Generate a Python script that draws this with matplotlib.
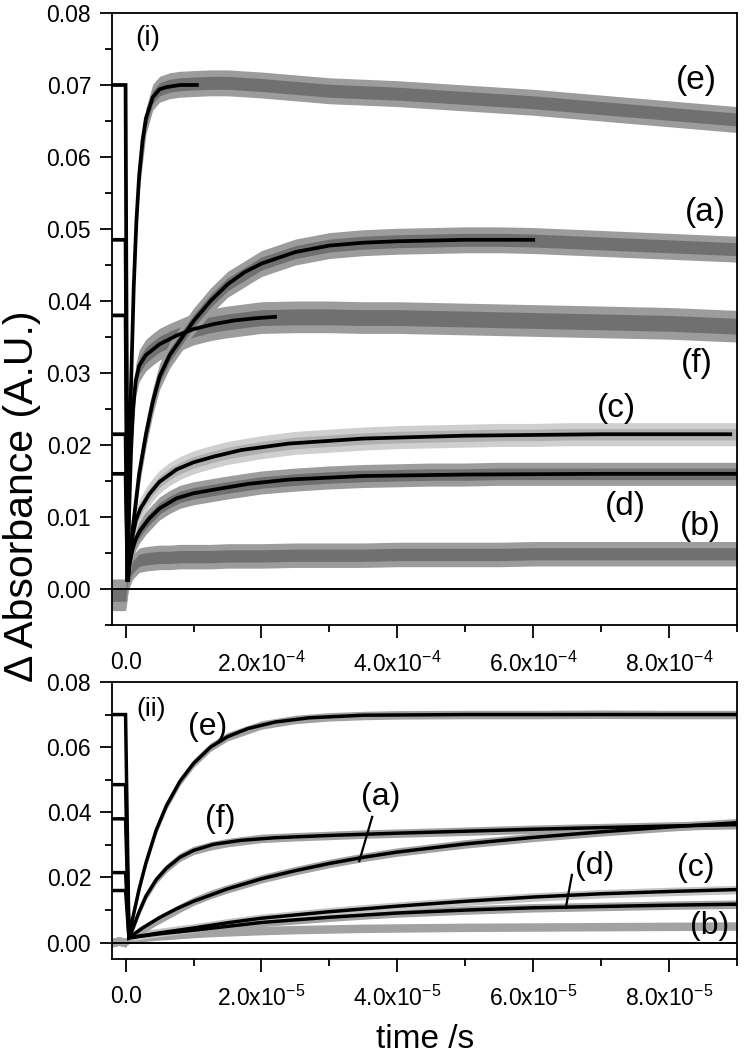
import matplotlib.pyplot as plt
from matplotlib.ticker import MultipleLocator, FuncFormatter

plt.rcParams['font.family'] = ['Liberation Sans', 'DejaVu Sans']
plt.rcParams['mathtext.fontset'] = 'custom'
plt.rcParams['mathtext.rm'] = 'Liberation Sans'
plt.rcParams['mathtext.it'] = 'Liberation Sans:italic'

# ---------------- panel (i): time in units of 1e-4 s ----------------
t1_scale = 1e-4
t1 = [-0.2, -0.1, 0.0, 0.03, 0.06, 0.1, 0.15, 0.2, 0.3, 0.4, 0.5, 0.65, 0.8, 1.0,
      1.25, 1.5, 2.0, 2.5, 3.0, 3.5, 4.0, 4.5, 5.0, 5.5, 6.0, 6.5, 7.0, 7.5, 8.0, 8.5, 9.0]
trace1_e = [-0.0008, -0.0008, -0.0008, 0.002, 0.020, 0.036, 0.049, 0.057, 0.065, 0.0683, 0.0694, 0.0699,
            0.0701, 0.0702, 0.0703, 0.0703, 0.0700, 0.0696, 0.0692, 0.0690, 0.0688, 0.0685, 0.0682, 0.0679,
            0.0676, 0.0672, 0.0668, 0.0664, 0.0660, 0.0656, 0.0652]
trace1_a = [-0.0008, -0.0008, -0.0008, 0.001, 0.004, 0.008, 0.012, 0.016, 0.0215, 0.026, 0.0295, 0.0325,
            0.0345, 0.0372, 0.0400, 0.0423, 0.0452, 0.0468, 0.0477, 0.0481, 0.0483, 0.0484, 0.0485, 0.0485,
            0.0484, 0.0482, 0.0480, 0.0478, 0.0476, 0.0474, 0.0472]
trace1_f = [-0.0008, -0.0008, -0.0008, 0.001, 0.013, 0.023, 0.029, 0.031, 0.0325, 0.0333, 0.0340, 0.0347,
            0.0353, 0.0361, 0.0367, 0.0371, 0.0377, 0.0378, 0.0378, 0.0377, 0.0377, 0.0376, 0.0375, 0.0374,
            0.0373, 0.0372, 0.0371, 0.0370, 0.0369, 0.0367, 0.0365]
trace1_c = [-0.0008, -0.0008, -0.0008, 0.001, 0.004, 0.0072, 0.0095, 0.0108, 0.0125, 0.0138, 0.0149, 0.0160,
            0.0168, 0.0176, 0.0183, 0.0189, 0.0197, 0.0203, 0.0206, 0.0209, 0.0211, 0.0212, 0.0213, 0.0214,
            0.0214, 0.0215, 0.0215, 0.0215, 0.0215, 0.0215, 0.0215]
trace1_d = [-0.0008, -0.0008, -0.0008, 0.001, 0.0035, 0.0055, 0.0070, 0.0079, 0.0092, 0.0102, 0.0112, 0.0121,
            0.0128, 0.0133, 0.0137, 0.0141, 0.0148, 0.0152, 0.0155, 0.0157, 0.0158, 0.0159, 0.0159, 0.0160,
            0.0160, 0.0160, 0.0160, 0.0160, 0.0160, 0.0160, 0.0160]
trace1_b = [-0.0008, -0.0008, -0.0008, 0.001, 0.002, 0.003, 0.0035, 0.0040, 0.0042, 0.0043, 0.0044, 0.0044,
            0.0045, 0.0045, 0.0045, 0.0046, 0.0046, 0.0047, 0.0047, 0.0047, 0.0048, 0.0048, 0.0048, 0.0048,
            0.0049, 0.0049, 0.0049, 0.0049, 0.0049, 0.0049, 0.0049]
noise1 = {'e': 0.0018, 'a': 0.0018, 'f': 0.0022, 'c': 0.0016, 'd': 0.0016, 'b': 0.0017}

fit1_e_x = [-0.2, 0.0, 0.03, 0.05, 0.08, 0.12, 0.16, 0.2, 0.25, 0.3, 0.4, 0.5, 0.6, 0.8, 1.05]
fit1_e_y = [0.070, 0.070, 0.001, 0.0135, 0.0281, 0.0419, 0.0512, 0.0574, 0.0623, 0.0654, 0.0683, 0.0694,
            0.0697, 0.0700, 0.0700]
fit1_a_x = [-0.2, 0.0, 0.03, 0.1, 0.2, 0.3, 0.4, 0.5, 0.65, 0.8, 1.0, 1.25, 1.5, 1.75, 2.0, 2.5, 3.0, 3.5,
            4.0, 5.0, 6.0]
fit1_a_y = [0.0485, 0.0485, 0.001, 0.008, 0.016, 0.0215, 0.026, 0.0295, 0.0325, 0.0345, 0.0372, 0.0400,
            0.0423, 0.0440, 0.0452, 0.0468, 0.0477, 0.0481, 0.0483, 0.0485, 0.0485]
fit1_f_x = [-0.2, 0.0, 0.03, 0.05, 0.08, 0.11, 0.15, 0.2, 0.3, 0.5, 0.75, 1.0, 1.3, 1.6, 1.9, 2.2]
fit1_f_y = [0.038, 0.038, 0.001, 0.010, 0.019, 0.025, 0.029, 0.031, 0.0325, 0.0340, 0.0352, 0.0361,
            0.0368, 0.0373, 0.0376, 0.0378]
fit1_c_x = [-0.2, 0.0, 0.03, 0.06, 0.1, 0.15, 0.22, 0.35, 0.5, 0.75, 1.0, 1.3, 1.7, 2.4, 3.5, 5.0, 7.0, 8.9]
fit1_c_y = [0.0215, 0.0215, 0.001, 0.004, 0.0072, 0.0095, 0.0112, 0.0132, 0.0149, 0.0166, 0.0176, 0.0184,
            0.0193, 0.0202, 0.0209, 0.0213, 0.0215, 0.0215]
fit1_d_x = [-0.2, 0.0, 0.03, 0.06, 0.1, 0.15, 0.22, 0.35, 0.5, 0.75, 1.0, 1.3, 1.8, 2.4, 3.5, 5.0, 7.0, 9.0]
fit1_d_y = [0.016, 0.016, 0.001, 0.0035, 0.0055, 0.0070, 0.0082, 0.0098, 0.0112, 0.0126, 0.0133, 0.0138,
            0.0146, 0.0152, 0.0157, 0.0159, 0.0160, 0.0160]

labels1 = ['(e)', '(a)', '(f)', '(c)', '(d)', '(b)']
labels1_x = [8.40, 8.54, 8.41, 7.22, 7.35, 8.46]
labels1_y = [0.0706, 0.0523, 0.0313, 0.0251, 0.0115, 0.0087]

# ---------------- panel (ii): time in units of 1e-5 s ----------------
t2_scale = 1e-5
t2 = [-0.2, -0.1, 0.0, 0.05, 0.1, 0.2, 0.3, 0.45, 0.6, 0.8, 1.0, 1.25, 1.5, 2.0, 2.5, 3.0, 3.5,
      4.0, 5.0, 6.0, 7.0, 8.0, 9.0]
trace2_e = [0.0, 0.0005, 0.0, 0.0015, 0.007, 0.0165, 0.0245, 0.0345, 0.0420, 0.0495, 0.0550, 0.0600,
            0.0632, 0.0668, 0.0685, 0.0693, 0.0697, 0.0699, 0.0700, 0.0700, 0.0701, 0.0700, 0.0700]
trace2_f = [0.0, 0.0005, 0.0, 0.0015, 0.004, 0.0095, 0.0143, 0.0193, 0.0228, 0.0262, 0.0283, 0.0297,
            0.0307, 0.0320, 0.0325, 0.0329, 0.0333, 0.0336, 0.0342, 0.0348, 0.0353, 0.0358, 0.0362]
trace2_a = [0.0, 0.0005, 0.0, 0.0015, 0.002, 0.0035, 0.0047, 0.0066, 0.0083, 0.0106, 0.0127, 0.0148,
            0.0165, 0.0196, 0.0221, 0.0243, 0.0262, 0.0278, 0.0303, 0.0323, 0.0340, 0.0355, 0.0368]
trace2_c = [0.0, 0.0005, 0.0, 0.0015, 0.0018, 0.0022, 0.0026, 0.0030, 0.0034, 0.0040, 0.0045, 0.0053,
            0.0061, 0.0075, 0.0085, 0.0095, 0.0104, 0.0112, 0.0127, 0.0140, 0.0150, 0.0157, 0.0163]
trace2_d = [0.0, 0.0005, 0.0, 0.0015, 0.0017, 0.0020, 0.0024, 0.0027, 0.0031, 0.0035, 0.0038, 0.0044,
            0.0050, 0.0062, 0.0070, 0.0078, 0.0085, 0.0091, 0.0100, 0.0107, 0.0111, 0.0115, 0.0118]
trace2_b = [0.0, 0.0005, 0.0, 0.0010, 0.0012, 0.0015, 0.0017, 0.0020, 0.0022, 0.0025, 0.0028, 0.0031,
            0.0033, 0.0037, 0.0040, 0.0042, 0.0044, 0.0045, 0.0047, 0.0048, 0.0049, 0.0050, 0.0051]
noise2 = 0.0013

fit2_e_x = [-0.2, 0.0, 0.05, 0.1, 0.2, 0.3, 0.45, 0.6, 0.8, 1.0, 1.25, 1.5, 1.8, 2.2, 2.7, 3.5, 5.0, 9.0]
fit2_e_y = [0.070, 0.070, 0.0015, 0.007, 0.0165, 0.0245, 0.0345, 0.0420, 0.0495, 0.0550, 0.0600, 0.0632,
            0.0657, 0.0677, 0.0690, 0.0698, 0.0700, 0.0700]
fit2_f_x = [-0.2, 0.0, 0.05, 0.1, 0.2, 0.3, 0.45, 0.6, 0.8, 1.0, 1.3, 1.7, 2.2, 3.0, 4.0, 5.0, 6.0, 7.0, 8.0, 9.0]
fit2_f_y = [0.038, 0.038, 0.0015, 0.004, 0.0095, 0.0143, 0.0193, 0.0228, 0.0262, 0.0283, 0.0302, 0.0314,
            0.0322, 0.0329, 0.0336, 0.0342, 0.0348, 0.0353, 0.0358, 0.0362]
fit2_a_x = [-0.2, 0.0, 0.05, 0.25, 0.5, 0.75, 1.0, 1.5, 2.0, 2.5, 3.0, 3.5, 4.0, 5.0, 6.0, 7.0, 8.0, 9.0]
fit2_a_y = [0.0485, 0.0485, 0.0015, 0.0045, 0.0077, 0.0104, 0.0127, 0.0165, 0.0196, 0.0221, 0.0243, 0.0262,
            0.0278, 0.0303, 0.0323, 0.0340, 0.0355, 0.0368]
fit2_c_x = [-0.2, 0.0, 0.05, 0.5, 1.0, 1.5, 2.0, 3.0, 4.0, 5.0, 6.0, 7.0, 8.0, 9.0]
fit2_c_y = [0.0215, 0.0215, 0.0015, 0.0030, 0.0045, 0.0061, 0.0075, 0.0095, 0.0112, 0.0127, 0.0140,
            0.0150, 0.0157, 0.0163]
fit2_d_x = [-0.2, 0.0, 0.05, 0.5, 1.0, 1.5, 2.0, 3.0, 4.0, 5.0, 6.0, 7.0, 8.0, 9.0]
fit2_d_y = [0.016, 0.016, 0.0015, 0.0027, 0.0038, 0.0050, 0.0062, 0.0078, 0.0091, 0.0100, 0.0107,
            0.0111, 0.0115, 0.0118]

labels2 = ['(e)', '(f)', '(a)', '(d)', '(c)', '(b)']
labels2_x = [1.21, 1.40, 3.75, 6.91, 8.40, 8.60]
labels2_y = [0.0662, 0.0380, 0.0447, 0.0236, 0.0230, 0.0052]
leader_a = ([3.63, 3.44], [0.0386, 0.0250])
leader_d = ([6.57, 6.48], [0.0208, 0.0107])

dark_out, dark_in = '#9c9c9c', '#707070'
light_out, light_in = '#cfcfcf', '#b0b0b0'

fig = plt.figure(figsize=(7.48, 10.56), dpi=100)
ax1 = fig.add_axes([0.1497, 0.4081, 0.8356, 0.5796])
ax2 = fig.add_axes([0.1497, 0.0919, 0.8356, 0.2623])


def sx(vals, scale):
    return [v * scale for v in vals]


# panel (i) noisy traces drawn as bands: outer fringe + darker core
for key, tr in [('b', trace1_b), ('d', trace1_d), ('c', trace1_c), ('f', trace1_f), ('a', trace1_a), ('e', trace1_e)]:
    c_out, c_in = (light_out, light_in) if key == 'c' else (dark_out, dark_in)
    hw = noise1[key]
    xs = sx(t1, t1_scale)
    ax1.fill_between(xs, [v - hw for v in tr], [v + hw for v in tr], color=c_out, lw=0)
    ax1.fill_between(xs, [v - 0.5 * hw for v in tr], [v + 0.5 * hw for v in tr], color=c_in, lw=0)

ax1.axhline(0, color='k', lw=1.4)
for fx, fy in [(fit1_e_x, fit1_e_y), (fit1_a_x, fit1_a_y), (fit1_f_x, fit1_f_y),
               (fit1_c_x, fit1_c_y), (fit1_d_x, fit1_d_y)]:
    ax1.plot(sx(fx, t1_scale), fy, color='k', lw=2.7, solid_joinstyle='miter')

for lab, lx, ly in zip(labels1, labels1_x, labels1_y):
    ax1.text(lx * t1_scale, ly, lab, fontsize=24, ha='center', va='center')
ax1.text(0.32 * t1_scale, 0.0765, '(i)', fontsize=20, ha='center', va='center')

# panel (ii) thinner traces
for key, tr in [('b', trace2_b), ('d', trace2_d), ('c', trace2_c), ('a', trace2_a), ('f', trace2_f), ('e', trace2_e)]:
    col = '#c4c4c4' if key == 'c' else '#a2a2a2'
    ax2.fill_between(sx(t2, t2_scale), [v - noise2 for v in tr], [v + noise2 for v in tr],
                     color=col, lw=0)

ax2.axhline(0, color='k', lw=1.4)
for fx, fy in [(fit2_e_x, fit2_e_y), (fit2_f_x, fit2_f_y), (fit2_a_x, fit2_a_y),
               (fit2_c_x, fit2_c_y), (fit2_d_x, fit2_d_y)]:
    ax2.plot(sx(fx, t2_scale), fy, color='k', lw=2.5, solid_joinstyle='miter')

for lab, lx, ly in zip(labels2, labels2_x, labels2_y):
    ax2.text(lx * t2_scale, ly, lab, fontsize=23, ha='center', va='center')
ax2.text(0.374 * t2_scale, 0.0717, '(ii)', fontsize=19, ha='center', va='center')
ax2.plot(sx(leader_a[0], t2_scale), leader_a[1], color='k', lw=1.6)
ax2.plot(sx(leader_d[0], t2_scale), leader_d[1], color='k', lw=1.6)


def xfmt(exp):
    def f(v, pos):
        if abs(v) < 1e-12:
            return '0.0'
        return '%.1fx10$^{%d}$' % (v / 10 ** exp, exp)
    return f


ax1.set_xlim(-0.2 * t1_scale, 9.0 * t1_scale)
ax1.set_ylim(-0.005, 0.08)
ax1.xaxis.set_major_locator(MultipleLocator(2e-4))
ax1.xaxis.set_minor_locator(MultipleLocator(1e-4))
ax1.xaxis.set_major_formatter(FuncFormatter(xfmt(-4)))
ax1.yaxis.set_major_locator(MultipleLocator(0.01))
ax1.yaxis.set_minor_locator(MultipleLocator(0.005))
ax1.yaxis.set_major_formatter(FuncFormatter(lambda v, p: '%.2f' % v))

ax2.set_xlim(-0.2 * t2_scale, 9.0 * t2_scale)
ax2.set_ylim(-0.005, 0.08)
ax2.xaxis.set_major_locator(MultipleLocator(2e-5))
ax2.xaxis.set_minor_locator(MultipleLocator(1e-5))
ax2.xaxis.set_major_formatter(FuncFormatter(xfmt(-5)))
ax2.yaxis.set_major_locator(MultipleLocator(0.02))
ax2.yaxis.set_minor_locator(MultipleLocator(0.01))
ax2.yaxis.set_major_formatter(FuncFormatter(lambda v, p: '%.2f' % v))

for ax in (ax1, ax2):
    for s in ax.spines.values():
        s.set_linewidth(1.3)
    ax.tick_params(which='major', direction='out', length=9, width=1.3, labelsize=16.5, pad=6)
    ax.tick_params(which='minor', direction='out', length=5, width=1.3)
    ax.tick_params(axis='x', pad=10)

fig.text(0.030, 0.530, '\u0394 Absorbance (A.U.)', rotation=90, fontsize=29.5, ha='center', va='center')
fig.text(0.568, 0.016, 'time /s', fontsize=24, ha='center', va='center')

fig.savefig('out.png', dpi=100)
